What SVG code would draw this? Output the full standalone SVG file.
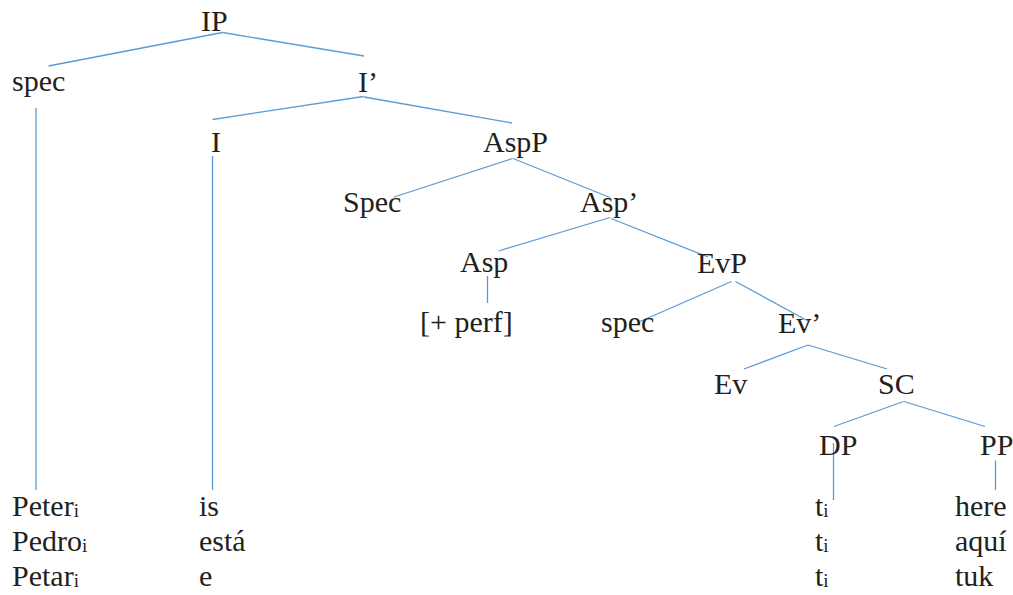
<svg xmlns="http://www.w3.org/2000/svg" width="1013" height="595" viewBox="0 0 1013 595">
<style>
text{font-family:'Liberation Serif','Tinos','Times New Roman','Nimbus Roman','DejaVu Serif',serif;font-size:30px;fill:#231f20}
.sub{font-size:19px}
line{stroke:#5b9bd5;stroke-width:1.3;fill:none}
</style>
<rect width="1013" height="595" fill="#fff"/>
<g id="connectors">
<line x1="222.5" y1="32.5" x2="48.5" y2="66"/>
<line x1="222.5" y1="32.5" x2="364" y2="56"/>
<line x1="36" y1="108" x2="36" y2="490"/>
<line x1="363.5" y1="96.5" x2="212.5" y2="119.5"/>
<line x1="364" y1="97" x2="512" y2="123"/>
<line x1="212.5" y1="156" x2="212.5" y2="490"/>
<line x1="512.5" y1="158.5" x2="394" y2="197"/>
<line x1="513" y1="158.5" x2="610" y2="197.5"/>
<line x1="610" y1="217.5" x2="498.5" y2="251"/>
<line x1="611" y1="218.5" x2="708" y2="257"/>
<line x1="487.5" y1="276" x2="487.5" y2="303"/>
<line x1="731.5" y1="281.5" x2="640" y2="321.5"/>
<line x1="735.5" y1="281.5" x2="808" y2="321"/>
<line x1="808" y1="345" x2="744" y2="369"/>
<line x1="808" y1="345" x2="887" y2="369"/>
<line x1="903.5" y1="401.5" x2="834" y2="426.5"/>
<line x1="904" y1="401.5" x2="985" y2="426.5"/>
<line x1="833.5" y1="443" x2="833.5" y2="500"/>
<line x1="995.5" y1="460.5" x2="995.5" y2="490"/>
</g>
<g id="n-IP"><text x="201" y="31" font-family="Liberation Serif, serif">IP</text></g>
<g id="n-spec1"><text x="12" y="91">spec</text></g>
<g id="n-Ibar"><text x="358" y="92">I’</text></g>
<g id="n-I"><text x="211" y="152">I</text></g>
<g id="n-AspP"><text x="483" y="152">AspP</text></g>
<g id="n-Spec"><text x="343" y="212">Spec</text></g>
<g id="n-Aspbar"><text x="580" y="212">Asp’</text></g>
<g id="n-Asp"><text x="460" y="272">Asp</text></g>
<g id="n-EvP"><text x="697" y="273">EvP</text></g>
<g id="n-perf"><text x="420" y="332">[+ perf]</text></g>
<g id="n-spec2"><text x="601" y="332">spec</text></g>
<g id="n-Evbar"><text x="778" y="333">Ev’</text></g>
<g id="n-Ev"><text x="714" y="394">Ev</text></g>
<g id="n-SC"><text x="878" y="394">SC</text></g>
<g id="n-DP"><text x="819" y="455">DP</text></g>
<g id="n-PP"><text x="980" y="455">PP</text></g>
<g id="n-subjects">
<text x="12" y="516">Peter<tspan class="sub" dy="1">i</tspan></text>
<text x="12" y="551">Pedro<tspan class="sub" dy="1">i</tspan></text>
<text x="12" y="586">Petar<tspan class="sub" dy="1">i</tspan></text>
</g>
<g id="n-verbs">
<text x="199" y="516">is</text>
<text x="199" y="551">está</text>
<text x="199" y="586">e</text>
</g>
<g id="n-traces">
<text x="815" y="516">t<tspan class="sub" dy="1">i</tspan></text>
<text x="815" y="551">t<tspan class="sub" dy="1">i</tspan></text>
<text x="815" y="586">t<tspan class="sub" dy="1">i</tspan></text>
</g>
<g id="n-locatives">
<text x="955" y="516">here</text>
<text x="955" y="551">aquí</text>
<text x="955" y="586">tuk</text>
</g>
</svg>
